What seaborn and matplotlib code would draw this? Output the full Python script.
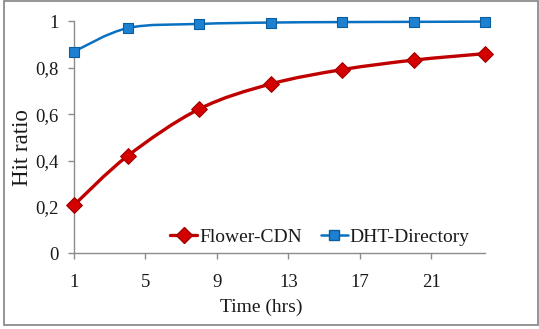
import numpy as np
import pandas as pd
import seaborn as sns
import matplotlib
matplotlib.use("Agg")
import matplotlib.pyplot as plt
from matplotlib.path import Path
from matplotlib.patches import PathPatch, Rectangle
from matplotlib.lines import Line2D

# ---- data ----
hours = [1, 4, 8, 12, 16, 20, 24]
flower_cdn = [0.208, 0.420, 0.622, 0.730, 0.792, 0.833, 0.861]
dht_directory = [0.870, 0.971, 0.989, 0.995, 0.997, 0.998, 0.999]
series_names = ["Flower-CDN", "DHT-Directory"]
x_ticks = [1, 5, 9, 13, 17, 21]
y_ticks = [0, 0.2, 0.4, 0.6, 0.8, 1.0]
y_tick_labels = ["0", "0,2", "0,4", "0,6", "0,8", "1"]

df = pd.DataFrame({
    "hours": hours * 2,
    "ratio": flower_cdn + dht_directory,
    "series": [series_names[0]] * len(hours) + [series_names[1]] * len(hours),
})

sns.set_theme(style="white")
plt.rcParams["font.family"] = ["Liberation Serif", "DejaVu Serif"]

fig = plt.figure(figsize=(5.39, 3.29), dpi=100)
ax = fig.add_axes([0.1373, 0.230, 0.7627, 0.705])

styles = {
    "Flower-CDN": dict(line="#C00000", face="#D40000", edge="#A00000", marker="D", ms=8.0, lw=2.4),
    "DHT-Directory": dict(line="#0A70C0", face="#1E80D0", edge="#0A5EA0", marker="s", ms=7.5, lw=1.8),
}


def smooth_path(xs, ys):
    pts = np.column_stack([xs, ys]).astype(float)
    n = len(pts)
    verts = [pts[0]]
    codes = [Path.MOVETO]
    for i in range(n - 1):
        p0 = pts[i - 1] if i > 0 else pts[i]
        p1 = pts[i]
        p2 = pts[i + 1]
        p3 = pts[i + 2] if i + 2 < n else pts[i + 1]
        c1 = p1 + (p2 - p0) / 6.0
        c2 = p2 - (p3 - p1) / 6.0
        verts += [c1, c2, p2]
        codes += [Path.CURVE4] * 3
    return Path(verts, codes)


handles = []
for name in series_names:
    st = styles[name]
    sub = df[df["series"] == name]
    patch = PathPatch(smooth_path(sub["hours"].values, sub["ratio"].values),
                      facecolor="none", edgecolor=st["line"], lw=st["lw"],
                      transform=ax.transData, zorder=2, capstyle="round")
    patch.set_clip_on(False)
    ax.add_patch(patch)
    sns.scatterplot(data=sub, x="hours", y="ratio", ax=ax, marker=st["marker"],
                    s=st["ms"] ** 2, color=st["face"], edgecolor=st["edge"],
                    linewidth=0.8, zorder=3, legend=False, clip_on=False)
    handles.append(Line2D([], [], color=st["line"], lw=st["lw"], marker=st["marker"],
                          markersize=st["ms"], markerfacecolor=st["face"],
                          markeredgecolor=st["edge"], label=name))

ax.set_xlim(1, 24)
ax.set_ylim(0, 1)
ax.set_xticks(x_ticks)
ax.set_xticklabels([str(t) for t in x_ticks])
ax.set_yticks(y_ticks)
ax.set_yticklabels(y_tick_labels)

axis_col = "#8C8C8C"
for s in ["top", "right"]:
    ax.spines[s].set_visible(False)
for s in ["left", "bottom"]:
    ax.spines[s].set_color(axis_col)
    ax.spines[s].set_linewidth(1.0)
ax.tick_params(axis="both", which="major", direction="out", length=4, width=1.0,
               color=axis_col, labelsize=13.5, labelcolor="#1a1a1a")
ax.tick_params(axis="x", pad=11, bottom=True)
ax.tick_params(axis="y", pad=7, left=True)

ax.set_xlabel("Time (hrs)", fontsize=14, color="#1a1a1a")
ax.set_ylabel("Hit ratio", fontsize=16.5, color="#1a1a1a")
ax.xaxis.set_label_coords(0.455, -0.195)
ax.yaxis.set_label_coords(-0.100, 0.454)

leg = ax.legend(handles=handles, loc="center left", bbox_to_anchor=(0.234, 0.070),
                ncol=2, frameon=False, fontsize=14, handlelength=1.4,
                handletextpad=0.1, columnspacing=0.95, borderpad=0, borderaxespad=0)
for t in leg.get_texts():
    t.set_color("#1a1a1a")

# outer border
fig.patches.append(Rectangle((3.5 / 539, 4.5 / 329), 534 / 539, 324 / 329,
                             transform=fig.transFigure, fill=False,
                             edgecolor="#8C8C8C", lw=1.3, zorder=0))

fig.savefig("out.png", dpi=100, facecolor="white")
